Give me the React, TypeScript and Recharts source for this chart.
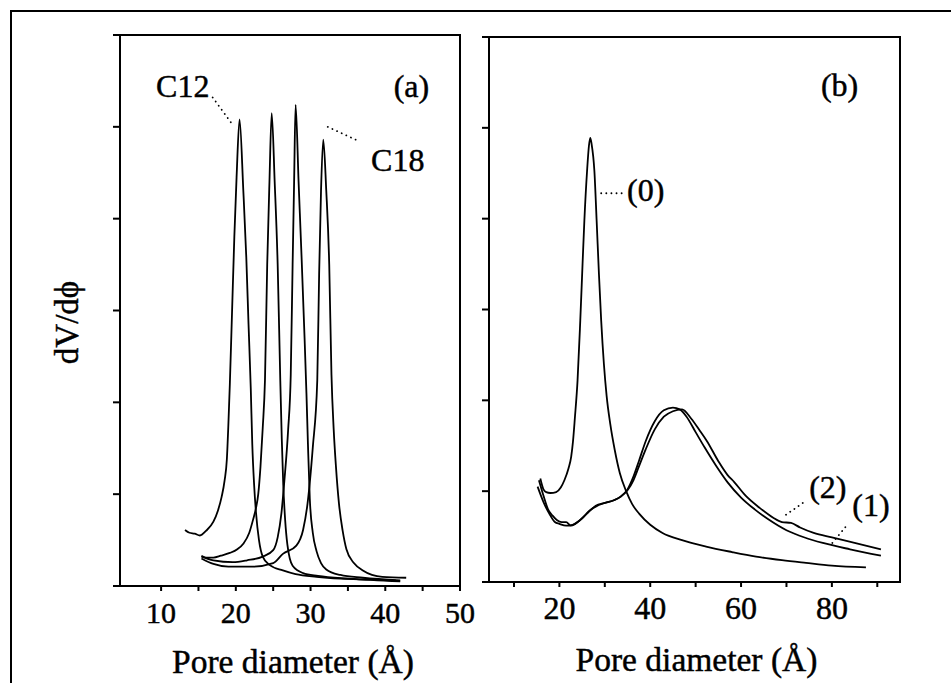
import React from 'react';
import { LineChart, Line, XAxis, YAxis, ReferenceArea, ReferenceLine, ReferenceDot, Label } from 'recharts';

const FONT = '"Liberation Serif", "Times New Roman", Times, serif';

// ---------- Panel (a): pore size distributions, C12 .. C18 ----------
const c12: [number, number][] = [[13.2,0.61],[13.8,0.58],[14.5,0.57],[15.2,0.55],[16.0,0.6],[17.0,0.7],[17.6,0.82],[18.1,0.97],[18.5,1.15],[18.8,1.38],[19.0,1.75],[19.2,2.2],[19.5,3.0],[19.8,3.8],[20.1,4.45],[20.5,5.08],[21.0,4.31],[21.4,3.58],[21.7,2.85],[22.0,2.15],[22.2,1.55],[22.45,1.1],[22.7,0.8],[23.1,0.5],[23.6,0.32],[24.5,0.23],[26.3,0.17],[28.0,0.13],[30.8,0.1],[34.0,0.08],[38.0,0.07],[41.4,0.06]];
const c14: [number, number][] = [[15.4,0.33],[16.0,0.31],[17.0,0.31],[18.0,0.33],[19.2,0.36],[20.2,0.4],[21.0,0.46],[21.8,0.58],[22.3,0.72],[22.7,0.85],[23.0,1.0],[23.3,1.3],[23.6,1.72],[23.9,2.24],[24.2,3.5],[24.5,4.4],[24.8,5.15],[25.2,4.4],[25.6,3.5],[25.95,2.24],[26.15,1.6],[26.35,1.1],[26.6,0.72],[26.9,0.45],[27.6,0.22],[29.0,0.14],[31.0,0.11],[35.2,0.08],[42.0,0.05]];
const c16: [number, number][] = [[15.4,0.32],[17.0,0.28],[19.6,0.26],[21.5,0.28],[23.6,0.32],[25.0,0.39],[25.6,0.53],[26.1,0.79],[26.5,1.15],[27.0,1.7],[27.35,2.3],[27.6,3.5],[27.8,4.4],[28.0,5.24],[28.4,4.4],[28.8,3.58],[29.2,2.7],[29.45,2.1],[29.65,1.55],[29.9,0.95],[30.3,0.58],[30.8,0.38],[31.4,0.25],[32.1,0.18],[34.0,0.12],[37.0,0.09],[42.0,0.06]];
const c18: [number, number][] = [[15.4,0.3],[17.0,0.24],[19.0,0.21],[22.0,0.21],[25.0,0.25],[26.3,0.35],[28.1,0.44],[29.0,0.61],[29.6,0.9],[30.3,1.51],[30.9,2.24],[31.15,3.4],[31.4,4.3],[31.7,4.86],[32.1,4.31],[32.5,3.5],[32.8,2.3],[33.1,1.7],[33.4,1.3],[33.8,0.9],[34.3,0.6],[34.8,0.4],[35.8,0.25],[37.0,0.17],[39.6,0.1],[42.8,0.09]];

// ---------- Panel (b): samples (0), (1), (2) ----------
const b0: [number, number][] = [[15.8,1.14],[16.5,1.02],[17.1,0.99],[18.0,0.98],[19.3,0.99],[20.3,1.04],[21.1,1.12],[22.0,1.25],[22.6,1.38],[23.0,1.55],[23.4,1.8],[24.0,2.22],[24.6,2.88],[25.1,3.5],[25.5,3.98],[26.1,4.53],[26.5,4.8],[26.8,4.89],[27.1,4.82],[27.7,4.53],[28.2,3.98],[28.7,3.4],[29.2,2.88],[29.8,2.4],[30.4,2.05],[31.2,1.74],[32.2,1.45],[33.3,1.2],[34.7,1.0],[36.0,0.86],[37.6,0.75],[40.0,0.63],[42.7,0.54],[47.0,0.46],[52.3,0.39],[58.0,0.33],[63.3,0.28],[69.0,0.24],[74.3,0.21],[80.0,0.18],[87.5,0.16]];
const b1: [number, number][] = [[15.2,1.05],[16.5,0.88],[17.8,0.75],[19.0,0.66],[20.0,0.64],[21.5,0.62],[22.9,0.63],[24.5,0.68],[26.0,0.75],[28.0,0.84],[30.0,0.87],[32.0,0.9],[33.5,0.94],[35.0,1.02],[36.3,1.16],[37.5,1.33],[39.0,1.55],[41.0,1.77],[43.0,1.89],[45.0,1.92],[46.5,1.9],[48.0,1.82],[50.0,1.65],[52.0,1.48],[54.5,1.28],[57.0,1.1],[60.0,0.93],[63.0,0.8],[66.0,0.69],[70.0,0.57],[74.0,0.49],[78.0,0.43],[84.0,0.36],[90.8,0.29]];
const b2: [number, number][] = [[15.5,1.12],[16.5,0.95],[17.5,0.8],[18.5,0.73],[19.5,0.68],[20.5,0.66],[21.5,0.66],[22.5,0.62],[23.5,0.64],[25.0,0.7],[26.5,0.78],[28.0,0.83],[30.0,0.87],[32.0,0.9],[33.5,0.94],[35.0,1.01],[36.3,1.12],[37.5,1.27],[39.0,1.46],[41.0,1.68],[43.0,1.82],[45.0,1.88],[47.0,1.9],[49.0,1.8],[51.0,1.66],[52.5,1.55],[55.0,1.33],[57.0,1.18],[58.5,1.1],[61.0,0.95],[64.0,0.82],[67.0,0.71],[69.0,0.66],[71.0,0.65],[73.0,0.6],[76.0,0.54],[80.0,0.49],[85.0,0.43],[90.8,0.36]];

// ---------- Axes ----------
const domainA: [number, number] = [4.5, 50];
const ticksA = [10, 15, 20, 25, 30, 35, 40, 45, 50];
const labelsA = [10, 20, 30, 40, 50];
const domainB: [number, number] = [4.5, 95];
const ticksB = [10, 20, 30, 40, 50, 60, 70, 80, 90];
const labelsB = [20, 40, 60, 80];
const yDomain: [number, number] = [0, 6];
const yTicks = [0, 1, 2, 3, 4, 5, 6];
const xTitle = 'Pore diameter (Å)';
const yTitle = 'dV/dϕ';

const toData = (pts: [number, number][]) => pts.map(([x, y]) => ({ x, y }));

const textStyle = { fontFamily: FONT, fill: '#000', stroke: '#000', strokeWidth: 0.45 };

const makeTick = (labels: number[], fontSize: number, dy: number) => (props: any) => {
  const { x, y, payload } = props;
  if (!labels.includes(payload.value)) return <g />;
  return (
    <text x={x} y={y + dy} textAnchor="middle" fontSize={fontSize} {...textStyle}>
      {payload.value}
    </text>
  );
};

const textShape = (label: string, anchor: string = 'start') => (p: any) => (
  <text x={p.cx} y={p.cy} textAnchor={anchor} fontSize={32} {...textStyle}>
    {label}
  </text>
);

const dotted = { stroke: '#000', strokeWidth: 1.8, strokeDasharray: '0.1 5', strokeLinecap: 'round' as const };
const lineProps = { type: 'monotone' as const, dataKey: 'y', stroke: '#000', strokeWidth: 1.8, dot: false, isAnimationActive: false };
const axisStroke = { stroke: '#000', strokeWidth: 2 };

export default function App() {
  return (
    <div style={{ position: 'absolute', left: 0, top: 0, width: 951, height: 683, background: '#fff', overflow: 'hidden' }}>
      <div style={{ position: 'absolute', left: 10, top: 10, width: 941, height: 673, borderLeft: '2px solid #000', borderTop: '2px solid #000' }} />

      <div style={{ position: 'absolute', left: 0, top: 0 }}>
        <LineChart width={951} height={683} margin={{ top: 35, right: 491, bottom: 67, left: 80 }} style={{ overflow: 'visible' }}>
          <XAxis dataKey="x" type="number" domain={domainA} allowDataOverflow ticks={ticksA} interval={0}
            axisLine={axisStroke} tickLine={axisStroke} tickSize={5} height={30} tick={makeTick(labelsA, 30, 30)}>
            <Label content={(p: any) => {
              const vb = p.viewBox || { x: 120, y: 586, width: 340 };
              return <text x={vb.x + vb.width / 2 + 3} y={vb.y + 87} textAnchor="middle" fontSize={33.5} {...textStyle}>{xTitle}</text>;
            }} />
          </XAxis>
          <YAxis type="number" domain={yDomain} ticks={yTicks} interval={0} width={40}
            axisLine={axisStroke} tickLine={axisStroke} tickSize={7} tick={() => <g />}>
            <Label content={(p: any) => {
              const vb = p.viewBox || { x: 80, y: 35, height: 551 };
              const cx = 78, cy = vb.y + vb.height / 2 + 12;
              return <text x={cx} y={cy} transform={`rotate(-90, ${cx}, ${cy})`} textAnchor="middle" fontSize={33} {...textStyle}>{yTitle}</text>;
            }} />
          </YAxis>
          <ReferenceArea x1={domainA[0]} x2={domainA[1]} y1={yDomain[0]} y2={yDomain[1]} fill="none" stroke="#000" strokeWidth={2} />
          <Line data={toData(c12)} {...lineProps} />
          <Line data={toData(c14)} {...lineProps} />
          <Line data={toData(c16)} {...lineProps} />
          <Line data={toData(c18)} {...lineProps} />
          <ReferenceLine segment={[{ x: 16.9, y: 5.32 }, { x: 19.6, y: 5.02 }]} {...dotted} />
          <ReferenceLine segment={[{ x: 32.3, y: 5.0 }, { x: 36.3, y: 4.85 }]} {...dotted} />
          <ReferenceDot x={9.33} y={5.32} r={0} shape={textShape('C12')} />
          <ReferenceDot x={38.1} y={4.52} r={0} shape={textShape('C18')} />
          <ReferenceDot x={43.5} y={5.33} r={0} shape={textShape('(a)', 'middle')} />
        </LineChart>
      </div>

      <div style={{ position: 'absolute', left: 0, top: 0 }}>
        <LineChart width={951} height={683} margin={{ top: 37, right: 51, bottom: 71, left: 449 }} style={{ overflow: 'visible' }}>
          <XAxis dataKey="x" type="number" domain={domainB} allowDataOverflow ticks={ticksB} interval={0}
            axisLine={axisStroke} tickLine={axisStroke} tickSize={5} height={30} tick={makeTick(labelsB, 32, 30)}>
            <Label content={(p: any) => {
              const vb = p.viewBox || { x: 489, y: 582, width: 411 };
              return <text x={vb.x + vb.width / 2 + 2} y={vb.y + 89} textAnchor="middle" fontSize={33.5} {...textStyle}>{xTitle}</text>;
            }} />
          </XAxis>
          <YAxis type="number" domain={yDomain} ticks={yTicks} interval={0} width={40}
            axisLine={axisStroke} tickLine={axisStroke} tickSize={7} tick={() => <g />} />
          <ReferenceArea x1={domainB[0]} x2={domainB[1]} y1={yDomain[0]} y2={yDomain[1]} fill="none" stroke="#000" strokeWidth={2} />
          <Line data={toData(b0)} {...lineProps} />
          <Line data={toData(b1)} {...lineProps} />
          <Line data={toData(b2)} {...lineProps} />
          <ReferenceLine segment={[{ x: 29.2, y: 4.28 }, { x: 34.7, y: 4.28 }]} {...dotted} />
          <ReferenceLine segment={[{ x: 69.9, y: 0.74 }, { x: 73.9, y: 0.88 }]} {...dotted} />
          <ReferenceLine segment={[{ x: 80.1, y: 0.43 }, { x: 83.4, y: 0.63 }]} {...dotted} />
          <ReferenceDot x={81.7} y={5.35} r={0} shape={textShape('(b)', 'middle')} />
          <ReferenceDot x={34.9} y={4.2} r={0} shape={textShape('(0)')} />
          <ReferenceDot x={75.0} y={0.92} r={0} shape={textShape('(2)')} />
          <ReferenceDot x={84.5} y={0.725} r={0} shape={textShape('(1)')} />
        </LineChart>
      </div>
    </div>
  );
}
